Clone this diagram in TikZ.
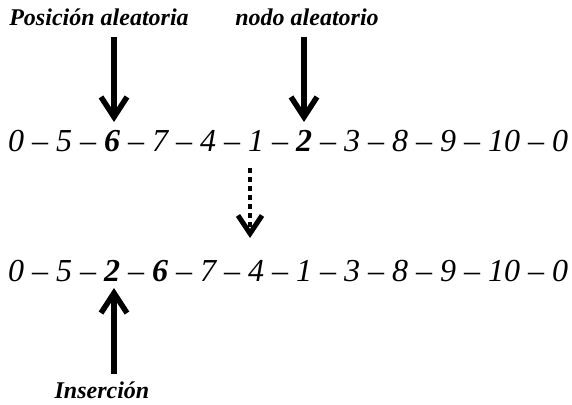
\documentclass[tikz,border=0pt]{standalone}
\usepackage{fontspec}
\setmainfont{Liberation Serif}
\usetikzlibrary{arrows.meta}
\tikzset{
  seq/.style={inner sep=0pt, anchor=base west, font=\fontsize{32}{38}\selectfont\itshape},
  lab/.style={inner sep=0pt, anchor=base, font=\fontsize{24}{28}\selectfont\bfseries\itshape},
  bigarrow/.style={line width=5.5pt, -{Straight Barb[length=20pt, width=26pt, line width=5.5pt]}},
  dotarrow/.style={line width=4.5pt, dash pattern=on 4.5pt off 4.5pt, -{Straight Barb[length=18pt, width=24pt, line width=5pt]}}
}
\begin{document}
\begin{tikzpicture}[x=1pt,y=-1pt]
\useasboundingbox (0,0) rectangle (572,404);
\node[lab] (lpos) at (99,26) {Posición aleatoria};
\node[lab] (lnodo) at (307,26) {nodo aleatorio};
\node[seq] (row1) at (8,151) {0 -- 5 -- \textbf{6} -- 7 -- 4 -- 1 -- \textbf{2} -- 3 -- 8 -- 9 -- 10 -- 0};
\node[seq] (row2) at (8,281) {0 -- 5 -- \textbf{2} -- \textbf{6} -- 7 -- 4 -- 1 -- 3 -- 8 -- 9 -- 10 -- 0};
\node[lab] (lins) at (102,398) {Inserción};
\coordinate (a1s) at (114,37);
\coordinate (a1e) at (114,122);
\coordinate (a2s) at (304,37);
\coordinate (a2e) at (304,122);
\coordinate (a3s) at (250,168);
\coordinate (a3e) at (250,238);
\coordinate (a4s) at (114,374);
\coordinate (a4e) at (114,288);
\draw[bigarrow] (a1s) -- (a1e);
\draw[bigarrow] (a2s) -- (a2e);
\draw[dotarrow] (a3s) -- (a3e);
\draw[bigarrow] (a4s) -- (a4e);
\end{tikzpicture}
\end{document}
